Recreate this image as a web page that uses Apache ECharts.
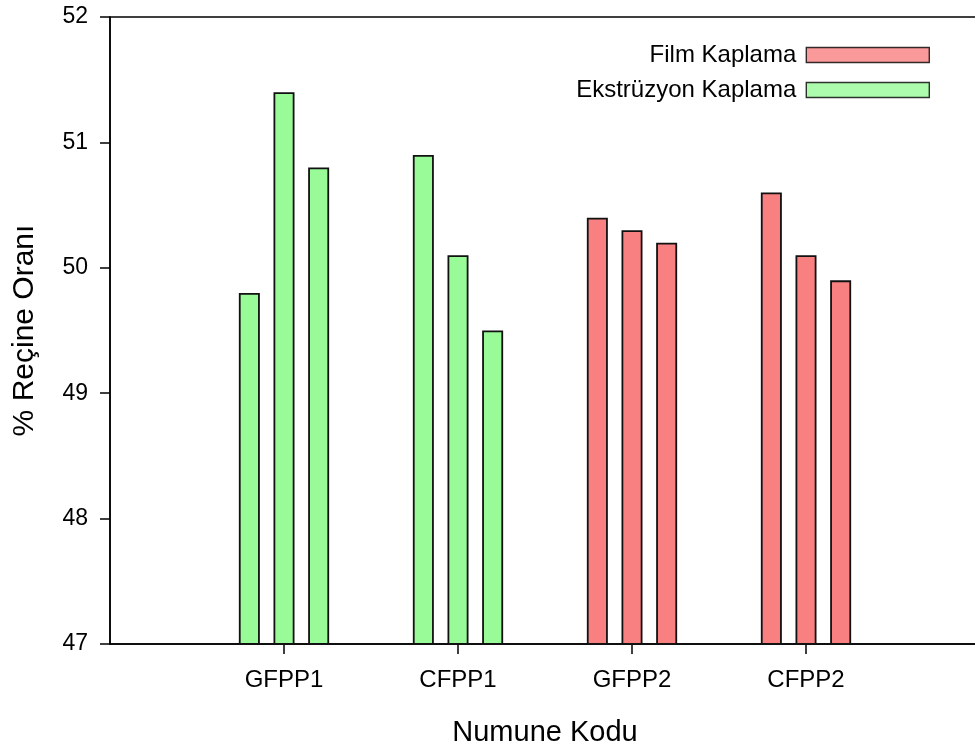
<!DOCTYPE html>
<html>
<head>
<meta charset="utf-8">
<script src="https://cdn.jsdelivr.net/npm/echarts@6/dist/echarts.min.js"></script>
<style>
  html, body { margin: 0; padding: 0; background: #fff; }
  #chart { width: 975px; height: 749px; }
</style>
</head>
<body>
<div id="chart"></div>
<script>
// Sample codes along the x axis (blank slots pad both ends of the axis)
const categories = ['', 'GFPP1', 'CFPP1', 'GFPP2', 'CFPP2', ''];
// Coating method of each sample group
const coating = ['', 'Ekstrüzyon Kaplama', 'Ekstrüzyon Kaplama', 'Film Kaplama', 'Film Kaplama', ''];
// Resin ratio (%) of the three specimens measured per sample
const specimen1 = ['-', 49.8, 50.9, 50.4, 50.6, '-'];
const specimen2 = ['-', 51.4, 50.1, 50.3, 50.1, '-'];
const specimen3 = ['-', 50.8, 49.5, 50.2, 49.9, '-'];
const yTicks = [47, 48, 49, 50, 51, 52];
const legendNames = ['Film Kaplama', 'Ekstrüzyon Kaplama'];

const colors = { 'Film Kaplama': '#F88080', 'Ekstrüzyon Kaplama': '#98FB98' };
const FONT = '"Liberation Sans", Arial, sans-serif';

function barSeries(name, values) {
  return {
    name: name,
    type: 'bar',
    barWidth: 21,
    barGap: '65%',
    data: values.map((v, i) => v === '-' ? v : {
      value: v,
      itemStyle: { color: colors[coating[i]] }
    }),
    itemStyle: { borderColor: '#111', borderWidth: 1.8 },
    emphasis: { disabled: true }
  };
}

const chart = echarts.init(document.getElementById('chart'), null, { renderer: 'canvas' });

chart.setOption({
  animation: false,
  backgroundColor: '#fff',
  grid: {
    left: 110, top: 17, width: 870, bottom: 105,
    outerBoundsMode: 'none',
    containLabel: false,
    show: true, borderColor: '#000', borderWidth: 1.5, backgroundColor: 'transparent'
  },
  legend: legendNames.map((n, k) => ({
    data: [{ name: n, icon: 'rect' }],
    right: 45,
    top: 43 + k * 35,
    padding: 0,
    align: 'right',
    itemWidth: 123,
    itemHeight: 15,
    itemGap: 10,
    selectedMode: false,
    itemStyle: { borderColor: '#000', borderWidth: 1.4 },
    textStyle: { fontFamily: FONT, fontSize: 24, color: '#000', padding: [0, 5, 0, 0] }
  })),
  xAxis: {
    type: 'category',
    data: categories,
    boundaryGap: false,
    name: 'Numune Kodu',
    nameLocation: 'middle',
    nameGap: 74,
    nameTextStyle: { fontFamily: FONT, fontSize: 29, color: '#000' },
    axisLine: { show: true, lineStyle: { color: '#000', width: 1.5 } },
    axisTick: {
      show: true, length: 10, lineStyle: { color: '#000', width: 1.5 },
      interval: (i, v) => v !== ''
    },
    axisLabel: { fontFamily: FONT, fontSize: 24, color: '#000', margin: 24, interval: 0 },
    splitLine: { show: false }
  },
  yAxis: {
    type: 'value',
    min: yTicks[0],
    max: yTicks[yTicks.length - 1],
    interval: 1,
    name: '% Reçine Oranı',
    nameLocation: 'middle',
    nameGap: 70,
    nameRotate: 90,
    nameTextStyle: { fontFamily: FONT, fontSize: 30, color: '#000' },
    axisLine: { show: true, lineStyle: { color: '#000', width: 1.5 } },
    axisTick: { show: true, length: 10, lineStyle: { color: '#000', width: 1.5 } },
    axisLabel: { fontFamily: FONT, fontSize: 23, color: '#000', margin: 22 },
    splitLine: { show: false }
  },
  series: [
    barSeries('1', specimen1),
    barSeries('2', specimen2),
    barSeries('3', specimen3),
    // legend entries for the two coating methods
    { name: legendNames[0], type: 'scatter', data: [], itemStyle: { color: colors[legendNames[0]] } },
    { name: legendNames[1], type: 'scatter', data: [], itemStyle: { color: colors[legendNames[1]] } }
  ]
});
</script>
</body>
</html>
